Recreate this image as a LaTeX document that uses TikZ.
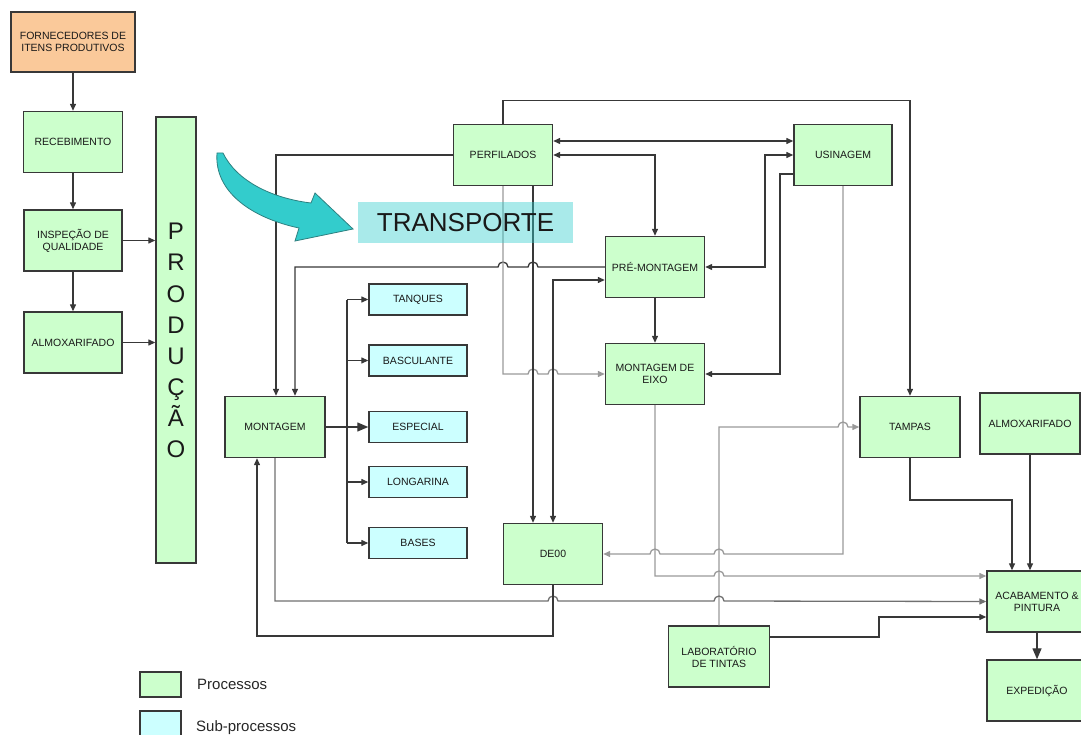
\documentclass[tikz,border=0pt]{standalone}
\usepackage{fontspec}
\setmainfont{Liberation Sans}
\usetikzlibrary{arrows.meta,calc}
\definecolor{procfill}{HTML}{CCFFCC}
\definecolor{subfill}{HTML}{CCFFFF}
\definecolor{fornfill}{HTML}{FAC99A}
\definecolor{linedk}{HTML}{383838}
\definecolor{linegr}{HTML}{9A9A9A}
\definecolor{linemd}{HTML}{707070}
\definecolor{tealA}{HTML}{33CCCC}
\definecolor{tealB}{HTML}{2E8080}
\begin{document}
\begin{tikzpicture}[x=1pt,y=-1pt,
 box/.style={draw=linedk,line width=1.4pt,minimum width=99pt,minimum height=61pt,inner sep=1pt,align=center,font=\fontsize{10.5}{12}\selectfont,text=black!90},
 proc/.style={box,fill=procfill},
 subp/.style={box,fill=subfill,minimum height=31pt},
 dk/.style={draw=linedk,line width=1.3pt},
 gr/.style={draw=linegr,line width=1.3pt},
 md/.style={draw=linemd,line width=1.3pt},
 arr/.style={-{Triangle[length=7pt,width=6pt]}},
 darr/.style={{Triangle[length=7pt,width=6pt]}-{Triangle[length=7pt,width=6pt]}},
 bigarr/.style={-{Triangle[length=11pt,width=9pt]}},
 letter/.style={font=\fontsize{24}{24}\selectfont,anchor=base,inner sep=0pt,text=black!90},
]
\useasboundingbox (0,0) rectangle (1081,735);
\clip (0,0) rectangle (1081,735);

% ---------- left column ----------
\node[box,fill=fornfill,minimum width=124pt,minimum height=60pt] (forn) at (73,42) {FORNECEDORES DE\\ITENS PRODUTIVOS};
\node[proc] (receb) at (73,142) {RECEBIMENTO};
\node[proc,minimum width=98pt] (insp) at (73,240.5) {INSPEÇÃO DE\\QUALIDADE};
\node[proc,minimum width=98pt] (almL) at (73,342.5) {ALMOXARIFADO};
\node[proc,minimum width=40pt,minimum height=446pt] (prod) at (176,340) {};
\foreach \l [count=\i from 0] in {P,R,O,D,U,Ç,Ã,O}
  \node[letter] (pl\i) at (176,240+31*\i) {\l};

% ---------- main processes ----------
\node[proc] (perf) at (503,155) {PERFILADOS};
\node[proc,minimum width=98pt] (usin) at (843,155) {USINAGEM};
\node[proc] (prem) at (655,267) {PRÉ-MONTAGEM};
\node[proc] (meixo) at (655,374) {MONTAGEM DE\\EIXO};
\node[proc,minimum width=100pt] (mont) at (275,427) {MONTAGEM};
\node[proc] (de00) at (553,554) {DE00};
\node[proc,minimum width=100pt] (tampas) at (910,427) {TAMPAS};
\node[proc,minimum width=100pt] (almR) at (1030,423.5) {ALMOXARIFADO};
\node[proc,minimum width=100pt] (acab) at (1037,601.5) {ACABAMENTO \&\\PINTURA};
\node[proc,minimum width=100pt] (exped) at (1037,690.5) {EXPEDIÇÃO};
\node[proc,minimum width=101pt] (lab) at (719,656.5) {LABORATÓRIO\\DE TINTAS};

% ---------- sub-processes ----------
\node[subp,minimum width=98pt] (tanq) at (418,299.5) {TANQUES};
\node[subp,minimum width=98pt] (basc) at (418,360.5) {BASCULANTE};
\node[subp,minimum width=98pt] (esp) at (418,427) {ESPECIAL};
\node[subp,minimum width=98pt] (long) at (418,482) {LONGARINA};
\node[subp,minimum width=98pt] (bases) at (418,543) {BASES};

% ---------- left column connectors ----------
\draw[dk,arr] (forn) -- (receb);
\draw[dk,arr] (receb) -- (insp);
\draw[dk,arr] (insp) -- (almL);
\draw[dk,arr] (insp.east) -- (prod.west |- insp.east);
\draw[dk,arr] (almL.east) -- (prod.west |- almL.east);

% ---------- top connectors ----------
\draw[dk,arr] (perf.north) -- ++(0,-23) -| (tampas.north);
\draw[dk,darr] (perf.east |- 0,141) -- (usin.west |- 0,141);
\draw[dk,darr] (perf.east) -| (prem.north);
\draw[dk,darr] (usin.west) -- (765,155) |- (prem.east);
\draw[dk,arr] (usin.west |- 0,174) -- (780,174) |- (meixo.east);
\draw[dk,arr] (prem) -- (meixo);

% PRE-MONTAGEM -> MONTAGEM (hops over x=533 and x=503)
\draw[dk,arr] (prem.west) -- (538,267) arc[start angle=0,end angle=180,radius=5pt]
  -- (508,267) arc[start angle=0,end angle=180,radius=5pt]
  -- (295,267) -- (295,0 |- mont.north);
% PERFILADOS -> MONTAGEM
\draw[dk,arr] (perf.west) -| (276,0 |- mont.north);
% PERFILADOS -> MONTAGEM DE EIXO (grey, hops over x=533, x=553)
\draw[gr,arr] (503,0 |- perf.south) -- (503,374) -- (528,374) arc[start angle=180,end angle=0,radius=5pt]
  -- (548,374) arc[start angle=180,end angle=0,radius=5pt] -- (meixo.west);
% PERFILADOS -> DE00
\draw[dk,arr] (533,0 |- perf.south) -- (533,0 |- de00.north);
% DE00 <-> PRE-MONTAGEM
\draw[dk,darr] (553,0 |- de00.north) -- (553,280) -- (prem.west |- 0,280);

% MONTAGEM -> sub-processes
\draw[dk,bigarr] (mont.east) -- (esp.west);
\draw[dk] (347,0 |- tanq.west) -- (347,0 |- bases.west);
\draw[dk,arr] (347,0 |- tanq.west) -- (tanq.west);
\draw[dk,arr] (347,0 |- basc.west) -- (basc.west);
\draw[dk,arr] (347,0 |- long.west) -- (long.west);
\draw[dk,arr] (347,0 |- bases.west) -- (bases.west);

% USINAGEM -> DE00 (grey, hops over x=719 and x=655)
\draw[gr,arr] (usin.south) -- (843,554) -- (724,554) arc[start angle=0,end angle=180,radius=5pt]
  -- (660,554) arc[start angle=0,end angle=180,radius=5pt] -- (de00.east);
% LAB -> TAMPAS (grey, hop over x=843)
\draw[gr,arr] (lab.north) -- (719,427) -- (838,427) arc[start angle=180,end angle=0,radius=5pt] -- (tampas.west);
% MONTAGEM DE EIXO -> ACABAMENTO (grey, hop over x=719)
\draw[gr,arr] (meixo.south) -- (655,576) -- (714,576) arc[start angle=180,end angle=0,radius=5pt] -- (acab.west |- 0,576);
% MONTAGEM -> ACABAMENTO (hops over x=553 and x=719)
\draw[md,arr] (mont.south) -- (275,601) -- (548,601) arc[start angle=180,end angle=0,radius=5pt]
  -- (714,601) arc[start angle=180,end angle=0,radius=5pt] -- (acab.west);
% DE00 -> MONTAGEM
\draw[dk,arr] (de00.south) -- (553,636) -- (257,636) -- (257,0 |- mont.south);
% LAB -> ACABAMENTO
\draw[dk,arr] (lab.east |- 0,637) -- (879,637) -- (879,617) -- (acab.west |- 0,617);
% TAMPAS -> ACABAMENTO
\draw[dk,arr] (tampas.south) -- (910,500) -- (1012,500) -- (1012,0 |- acab.north);
% ALMOXARIFADO -> ACABAMENTO
\draw[dk,arr] (almR.south) -- (1030,0 |- acab.north);
% ACABAMENTO -> EXPEDICAO
\draw[dk,bigarr] (acab.south -| 1037,0) -- (exped.north);

% ---------- TRANSPORTE ----------
\fill[tealA,draw=tealB,line width=0.8pt] (217,153) -- (223,153)
  .. controls (236,180) and (270,198) .. (311,203)
  -- (315,193) -- (353,229) -- (295,241) -- (299,228)
  .. controls (252,218) and (214,192) .. (217,153) -- cycle;
\node[fill=tealA,fill opacity=0.42,text opacity=1,minimum width=215pt,minimum height=41pt,inner sep=0pt,
  font=\fontsize{26}{26}\selectfont,text=black!90] (transp) at (465.5,222.5) {TRANSPORTE};

% ---------- legend ----------
\node[draw=linedk,line width=1.3pt,fill=procfill,minimum width=41pt,minimum height=25pt] (legp) at (160.5,684.5) {};
\node[draw=linedk,line width=1.3pt,fill=subfill,minimum width=41pt,minimum height=26pt] (legs) at (160.5,724) {};
\node[anchor=base west,inner sep=0pt,font=\fontsize{15}{15}\selectfont,text=black!85] (legpt) at (197,689) {Processos};
\node[anchor=base west,inner sep=0pt,font=\fontsize{15}{15}\selectfont,text=black!85] (legst) at (196,731) {Sub-processos};
\end{tikzpicture}
\end{document}
